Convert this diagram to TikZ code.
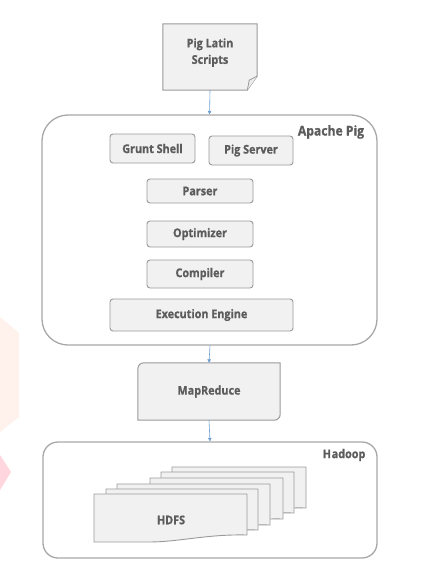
\documentclass[tikz,border=0pt]{standalone}
\usepackage{fontspec}
\setmainfont{Open Sans}[FakeStretch=0.9, BoldFeatures={FakeStretch=0.9, FakeBold=0.8}]
\usetikzlibrary{arrows.meta}
\definecolor{txt}{HTML}{5C5C5C}
\definecolor{boxfill}{HTML}{F1F1F1}
\definecolor{boxline}{HTML}{9A9A9A}
\definecolor{contline}{HTML}{A8A8A8}
\definecolor{arrowc}{HTML}{6E9FCF}
\definecolor{wmpale}{HTML}{FFF1EC}
\definecolor{wmpink}{HTML}{FFD5DE}
\tikzset{
  lbl/.style={font=\fontsize{12}{15}\selectfont\bfseries, text=txt, align=center, inner sep=0pt},
  inbox/.style={lbl, draw=boxline, fill=boxfill, line width=0.9pt, rounded corners=3pt},
  container/.style={draw=contline, line width=1.3pt, fill=white},
  ghost/.style={lbl, draw=none},
  shapeline/.style={draw=boxline, fill=boxfill, line width=1pt},
  page/.style={draw=boxline, fill=boxfill, line width=0.9pt, line join=round},
  arr/.style={draw=arrowc, line width=0.6pt, -{Triangle[length=3.5pt,width=3.5pt]}},
}
\begin{document}
\begin{tikzpicture}[x=1pt,y=-1pt]
\useasboundingbox (0,0) rectangle (429,562);
\fill[white] (0,0) rectangle (429,562);
% faint watermark at the left edge
\fill[wmpale] (0,317) -- (19,333) -- (19,417) -- (0,432) -- cycle;
\fill[wmpink] (0,455) -- (11,472) -- (0,490) -- cycle;

% Pig Latin Scripts document
\node[ghost, minimum width=94pt, minimum height=66pt] (doc) at (210,57) {};
\path[shapeline] (doc.north west) -- (doc.north east) -- ([yshift=14pt]doc.south east)
  -- ([xshift=-10pt]doc.south east) -- (doc.south west) -- cycle;
\draw[boxline, line width=0.8pt, fill=white!80!boxline] ([yshift=14pt]doc.south east)
  .. controls ([xshift=-6pt,yshift=11pt]doc.south east) .. ([xshift=-8pt,yshift=10pt]doc.south east)
  .. controls ([xshift=-9pt,yshift=4pt]doc.south east) .. ([xshift=-10pt]doc.south east);
\node[lbl, font=\fontsize{12}{16.5}\selectfont\bfseries] (doclbl) at ([yshift=4.5pt]doc.center) {Pig Latin\\Scripts};

% Apache Pig container
\node[container, rounded corners=26pt, minimum width=335pt, minimum height=230pt] (pig) at (209.5,230) {};
\node[lbl, font=\fontsize{13.5}{16}\selectfont\bfseries] (piglbl) at (331,132) {Apache Pig};

\node[inbox, minimum width=85pt, minimum height=29pt] (grunt) at (152.5,148.5) {Grunt Shell};
\node[inbox, minimum width=84pt, minimum height=29pt] (server) at (251,150.5) {Pig Server};
\node[inbox, minimum width=106pt, minimum height=24pt] (parser) at (200,191) {Parser};
\node[inbox, minimum width=106pt, minimum height=26pt] (optim) at (200,234) {Optimizer};
\node[inbox, minimum width=106pt, minimum height=28pt] (compiler) at (200,274) {Compiler};
\node[inbox, minimum width=183pt, minimum height=32pt] (exec) at (201.5,315) {Execution Engine};

% MapReduce
\node[ghost, minimum width=142pt, minimum height=57pt] (mr) at (209,391.5) {};
\path[shapeline] ([yshift=-6pt]mr.north west) arc[start angle=180, end angle=90, radius=6pt]
  -- (mr.north east) -- ([yshift=6pt]mr.south east) arc[start angle=0, end angle=-90, radius=6pt]
  -- (mr.south west) -- cycle;
\node[lbl] (mrlbl) at (mr.center) {MapReduce};

% Hadoop container
\node[container, rounded corners=15pt, minimum width=334pt, minimum height=116pt] (hadoop) at (210,500) {};
\node[lbl] (hadooplbl) at (344,455) {H\kern0.8pt adoop};

% HDFS pages, back to front
\foreach \l/\t/\r in {172/467/306, 161/472/294, 150/478/283, 117/484/270, 106/489/258, 94/494/247}{
  \path[page] (\l,\t) -- (\r,\t) -- (\r,\t+41)
    .. controls (\r-40,\t+40) and (\l+85,\t+48) .. (\l+55,\t+48) -- (\l,\t+48) -- cycle;
}
\node[lbl] (hdfs) at (171,520) {HDFS};

% connectors
\draw[arr] (doc.south) -- (pig.north);
\draw[arr] ([xshift=0.5pt]pig.south) -- (mr.north);
\draw[arr] (mr.south) -- (hadoop.north);
\end{tikzpicture}
\end{document}
